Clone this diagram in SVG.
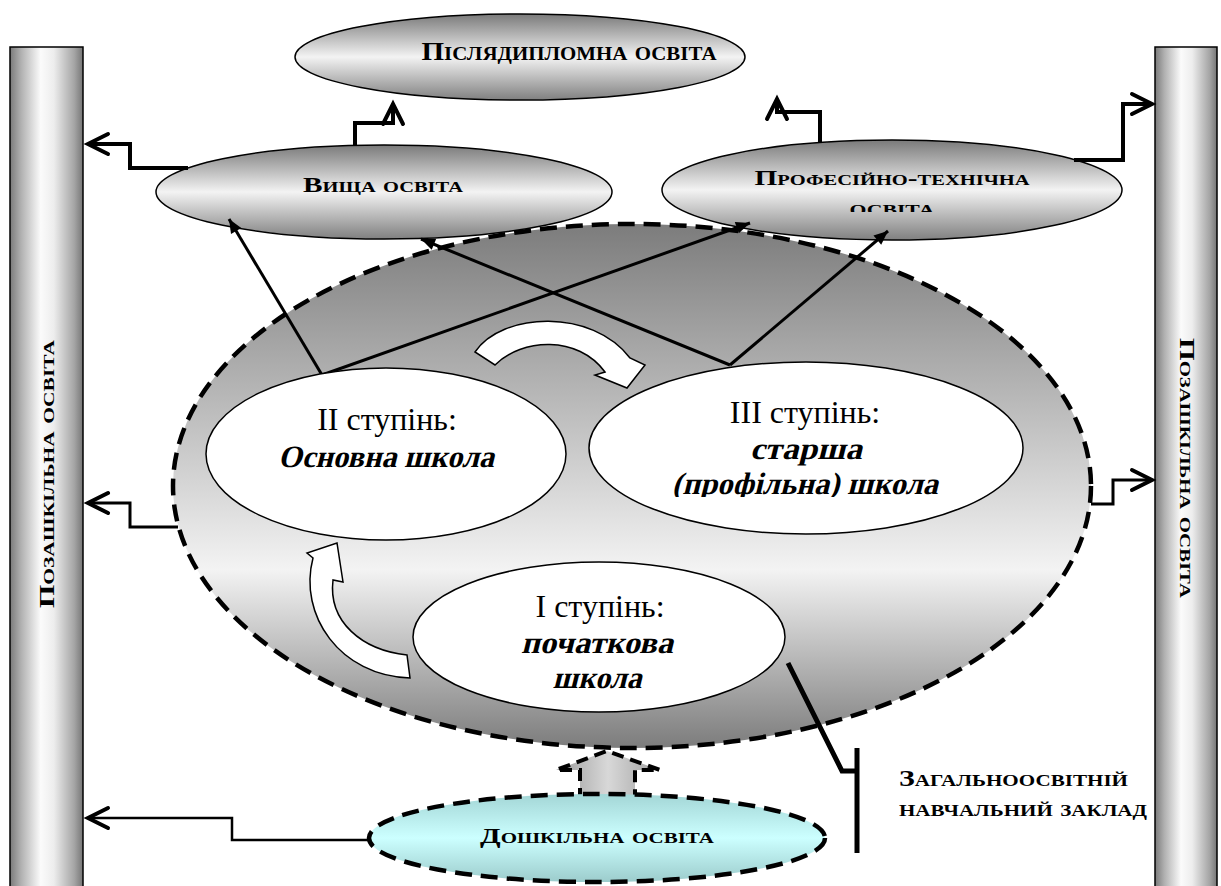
<svg xmlns="http://www.w3.org/2000/svg" width="1221" height="886" viewBox="0 0 1221 886">
<style>
.sc{font-family:"Liberation Serif","Times New Roman",serif;font-weight:bold;font-variant:small-caps;fill:#000}
.rm{font-family:"Liberation Serif","Times New Roman",serif;font-size:32px;fill:#000}
.bi{font-family:"Liberation Serif","Times New Roman",serif;font-size:31px;font-weight:bold;fill:#000}
.oval{fill:url(#ovalG);stroke:#000;stroke-width:1.5}
.wov{fill:#fff;stroke:#000;stroke-width:1.5}
.bar{fill:url(#barG);stroke:#000;stroke-width:1.5}
.con{fill:none;stroke:#000;stroke-width:4;stroke-linejoin:miter}
.dia{fill:none;stroke:#000;stroke-width:3}
.blk{fill:#fff;stroke:#000;stroke-width:1.5;stroke-linejoin:miter}
</style>
<defs>
<linearGradient id="barG" x1="0" y1="0" x2="1" y2="0">
<stop offset="0" stop-color="#7a7a7a"/><stop offset="0.15" stop-color="#b0b0b0"/><stop offset="0.42" stop-color="#fbfbfb"/><stop offset="0.6" stop-color="#ededed"/><stop offset="0.88" stop-color="#a5a5a5"/><stop offset="1" stop-color="#767676"/>
</linearGradient>
<linearGradient id="ovalG" x1="0" y1="0" x2="0" y2="1">
<stop offset="0" stop-color="#7a7a7a"/><stop offset="0.5" stop-color="#f3f3f3"/><stop offset="1" stop-color="#808080"/>
</linearGradient>
<linearGradient id="bigG" x1="0" y1="0" x2="0" y2="1">
<stop offset="0" stop-color="#7c7c7c"/><stop offset="0.66" stop-color="#f3f3f3"/><stop offset="1" stop-color="#7c7c7c"/>
</linearGradient>
<linearGradient id="cyanG" x1="0" y1="0" x2="0" y2="1">
<stop offset="0" stop-color="#a3d6d6"/><stop offset="0.5" stop-color="#ccffff"/><stop offset="1" stop-color="#9ccccc"/>
</linearGradient>
<linearGradient id="greyG" x1="0" y1="0" x2="1" y2="0">
<stop offset="0" stop-color="#9a9a9a"/><stop offset="0.5" stop-color="#d8d8d8"/><stop offset="1" stop-color="#a0a0a0"/>
</linearGradient>
<marker id="open" markerUnits="userSpaceOnUse" viewBox="-24 -14 28 28" refX="0" refY="0" markerWidth="28" markerHeight="28" orient="auto" overflow="visible">
<path d="M-20,-10 L0,0 L-20,10" fill="none" stroke="#000" stroke-width="4" stroke-linecap="round"/>
</marker>
<marker id="solid" markerUnits="userSpaceOnUse" viewBox="-14 -7 16 14" refX="0" refY="0" markerWidth="16" markerHeight="14" orient="auto" overflow="visible">
<path d="M-14,-6 L0,0 L-14,6 Z" fill="#000"/>
</marker>
<clipPath id="clipIII"><rect x="580" y="350" width="450" height="147"/></clipPath>
<clipPath id="clipPT"><rect x="660" y="140" width="470" height="72"/></clipPath>
</defs>

<g id="bar-left">
<rect class="bar" x="10" y="47" width="73" height="845"/>
<text class="sc" font-size="21" transform="translate(54,474) rotate(-90)" text-anchor="middle" textLength="268" lengthAdjust="spacingAndGlyphs">Позашкільна освіта</text>
</g>
<g id="bar-right">
<rect class="bar" x="1155" y="47" width="62" height="845"/>
<text class="sc" font-size="21" transform="translate(1180,468) rotate(90)" text-anchor="middle" textLength="260" lengthAdjust="spacingAndGlyphs">Позашкільна освіта</text>
</g>

<g id="school">
<ellipse cx="632" cy="486" rx="459" ry="262" fill="url(#bigG)" stroke="#000" stroke-width="4.5" stroke-dasharray="17 9"/>
</g>

<g id="postgrad">
<ellipse class="oval" cx="520" cy="57" rx="225" ry="43"/>
<text class="sc" font-size="25" x="569" y="60" text-anchor="middle" textLength="295" lengthAdjust="spacingAndGlyphs">Післядипломна освіта</text>
</g>
<g id="higher">
<ellipse class="oval" cx="384" cy="192" rx="228" ry="47"/>
<text class="sc" font-size="20" x="383" y="192" text-anchor="middle" textLength="160" lengthAdjust="spacingAndGlyphs">Вища освіта</text>
</g>
<g id="vocational">
<ellipse class="oval" cx="892" cy="190" rx="230" ry="50"/>
<g clip-path="url(#clipPT)">
<text class="sc" font-size="20" x="892" y="185" text-anchor="middle" textLength="275" lengthAdjust="spacingAndGlyphs">Професійно-технічна</text>
<text class="sc" font-size="20" x="892" y="215" text-anchor="middle" textLength="85" lengthAdjust="spacingAndGlyphs">освіта</text>
</g>
</g>

<g id="connectors">
<path class="con" d="M188,168 H130 V144 H88" marker-end="url(#open)"/>
<path class="con" d="M355,146 V123 H393 V104" marker-end="url(#open)"/>
<path class="con" d="M820,143 V112 H777 V99" marker-end="url(#open)"/>
<path class="con" d="M1074,160 H1123 V104 H1152" marker-end="url(#open)"/>
<path class="con" style="stroke-width:3" d="M178,527 H130 V503 H88" marker-end="url(#open)"/>
<path class="con" style="stroke-width:3" d="M1091,504 H1113 V480 H1152" marker-end="url(#open)"/>
<path class="con" style="stroke-width:2.5" d="M372,840 H232 V818 H88" marker-end="url(#open)"/>
<line class="dia" x1="322" y1="375" x2="229" y2="219" marker-end="url(#solid)"/>
<line class="dia" x1="322" y1="375" x2="750" y2="223" marker-end="url(#solid)"/>
<line class="dia" x1="730" y1="365" x2="421" y2="239" marker-end="url(#solid)"/>
<line class="dia" x1="730" y1="365" x2="888" y2="231" marker-end="url(#solid)"/>
<path d="M788,663 L842,771 H857 M857,748 V853" fill="none" stroke="#000" stroke-width="5"/>
</g>

<g id="arrow-2-3">
<path class="blk" d="M475,352 C502,312 592,308 630,358 L645,365 L627,388 L595,375 L605,372 C578,335 522,338 495,365 Z"/>
</g>
<g id="arrow-1-2">
<path class="blk" d="M313,558 C298,615 340,676 410,678 L407,655 C362,650 328,622 333,580 L343,582 L337,543 L307,553 Z"/>
</g>

<g id="stage2">
<ellipse class="wov" cx="386" cy="454" rx="180" ry="86"/>
<text class="rm" x="387" y="430" text-anchor="middle">II ступінь:</text>
<text class="bi" transform="translate(386,467) skewX(-14)" text-anchor="middle" textLength="216" lengthAdjust="spacingAndGlyphs">Основна школа</text>
</g>
<g id="stage3">
<ellipse class="wov" cx="806" cy="448" rx="217" ry="86"/>
<g clip-path="url(#clipIII)">
<text class="rm" x="805" y="423" text-anchor="middle">III ступінь:</text>
<text class="bi" transform="translate(806,459) skewX(-14)" text-anchor="middle" textLength="112" lengthAdjust="spacingAndGlyphs">старша</text>
<text class="bi" transform="translate(805,494) skewX(-14)" text-anchor="middle" textLength="266" lengthAdjust="spacingAndGlyphs">(профільна) школа</text>
</g>
</g>
<g id="stage1">
<ellipse class="wov" cx="599" cy="637" rx="186" ry="75"/>
<text class="rm" x="600" y="617" text-anchor="middle">I ступінь:</text>
<text class="bi" transform="translate(597,653) skewX(-14)" text-anchor="middle" textLength="152" lengthAdjust="spacingAndGlyphs">початкова</text>
<text class="bi" transform="translate(597,688) skewX(-14)" text-anchor="middle" textLength="89" lengthAdjust="spacingAndGlyphs">школа</text>
</g>

<g id="preschool-arrow">
<path d="M580,800 V770 H556 L607,751 L660,770 H635 V800 Z" fill="url(#greyG)" stroke="#000" stroke-width="4" stroke-dasharray="12 7"/>
</g>
<g id="preschool">
<ellipse cx="597" cy="838" rx="228" ry="44" fill="url(#cyanG)" stroke="#000" stroke-width="4.5" stroke-dasharray="17 9"/>
<text class="sc" font-size="20" x="597" y="843" text-anchor="middle" textLength="234" lengthAdjust="spacingAndGlyphs">Дошкільна освіта</text>
</g>

<g id="label-school">
<text class="sc" font-size="24" x="899" y="786" textLength="229" lengthAdjust="spacingAndGlyphs">Загальноосвітній</text>
<text class="sc" font-size="24" x="899" y="816" textLength="248" lengthAdjust="spacingAndGlyphs">навчальний заклад</text>
</g>
</svg>
